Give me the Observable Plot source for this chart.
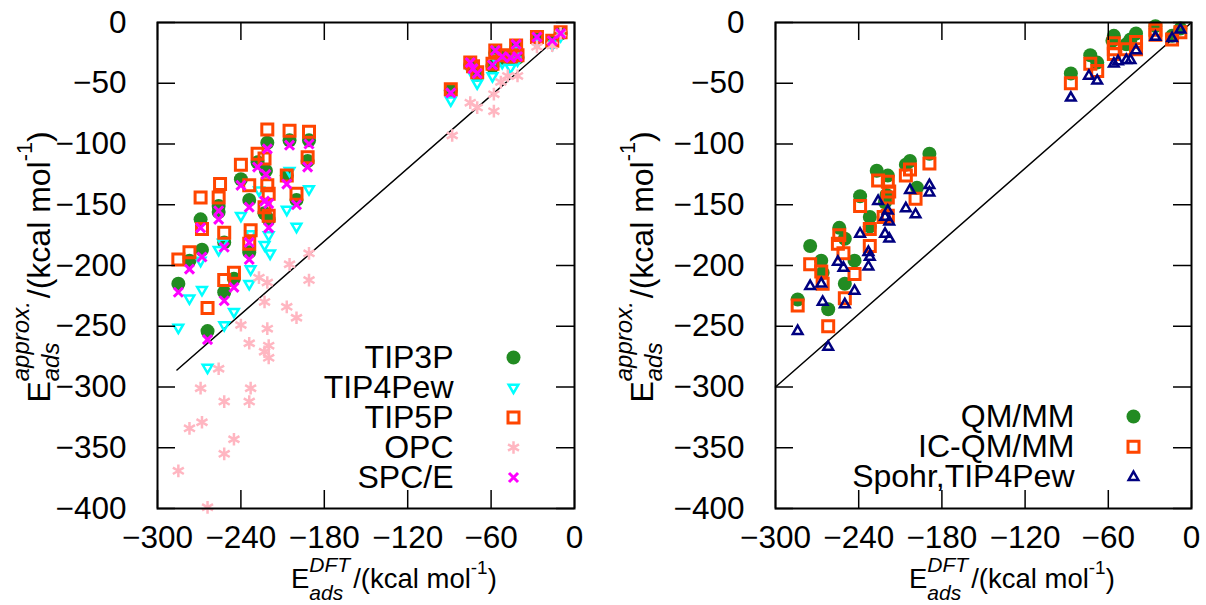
<!DOCTYPE html>
<html><head><meta charset="utf-8">
<script src="https://cdn.jsdelivr.net/npm/d3@7"></script>
<script src="https://cdn.jsdelivr.net/npm/@observablehq/plot@0.6"></script>
<style>
body{margin:0;background:#fff;}
#wrap{display:flex;width:1206px;height:605px;overflow:hidden;}
</style></head><body><div id="wrap"></div>
<script>
const FONT = '"Liberation Sans", Arial, Helvetica, sans-serif';
const xTicks = [-300, -240, -180, -120, -60, 0];
const yTicks = [0, -50, -100, -150, -200, -250, -300, -350, -400];
const leftNames = ["TIP3P", "TIP4Pew", "TIP5P", "OPC", "SPC/E"];
const rightNames = ["QM/MM", "IC-QM/MM", "Spohr,TIP4Pew"];
const diagLeft = [-286, -8];
const diagRight = [-300, 0];

// [E_DFT, E_approx] pairs
const tip3p = [[-221,-99],[-205,-97],[-191,-97],[-228,-115],[-222,-122],[-192,-114],[-240,-129],[-207,-126],[-234,-146],[-256,-151],[-256,-156],[-269,-162],[-223,-157],[-220,-162],[-200,-146],[-268,-187],[-252,-181],[-234,-189],[-277,-196],[-285,-215],[-252,-222],[-245,-211],[-264,-254],
  [-89,-56],[-75,-35],[-73,-38],[-70,-43],[-59,-36],[-57,-25],[-52,-29],[-46,-30],[-42,-21],[-41,-29],[-27,-14],[-16,-16],[-10,-9]];
const tip4pew = [[-205,-122],[-191,-137],[-227,-138],[-240,-159],[-207,-154],[-200,-168],[-220,-175],[-223,-183],[-219,-190],[-233,-174],[-233,-203],[-269,-196],[-277,-227],[-268,-220],[-234,-215],[-245,-238],[-285,-251],[-252,-249],[-264,-284],[-256,-187],[-253,-181],
  [-89,-64],[-75,-39],[-70,-50],[-59,-44],[-57,-29],[-52,-33],[-46,-37],[-42,-23],[-41,-31],[-27,-17],[-16,-18],[-10,-11]];
const tip5p = [[-221,-88],[-205,-89],[-191,-90],[-228,-108],[-223,-112],[-192,-111],[-240,-117],[-255,-133],[-234,-134],[-207,-126],[-221,-134],[-220,-141],[-200,-141],[-269,-144],[-256,-144],[-223,-152],[-220,-159],[-268,-170],[-252,-173],[-233,-171],[-234,-182],[-277,-189],[-285,-195],[-245,-206],[-252,-212],[-264,-235],
  [-89,-55],[-75,-33],[-73,-36],[-70,-41],[-59,-34],[-57,-23],[-52,-27],[-46,-28],[-42,-19],[-41,-27],[-27,-12],[-16,-15],[-10,-8]];
const opc = [[-191,-190],[-205,-199],[-191,-212],[-227,-210],[-221,-214],[-223,-230],[-207,-234],[-200,-243],[-240,-249],[-221,-252],[-234,-264],[-220,-266],[-223,-271],[-220,-276],[-256,-285],[-269,-301],[-233,-301],[-252,-312],[-234,-312],[-268,-329],[-277,-334],[-245,-343],[-252,-355],[-285,-369],[-264,-399],
  [-88,-93],[-75,-66],[-70,-70],[-58,-73],[-58,-59],[-53,-49],[-48,-44],[-41,-44],[-27,-20],[-16,-19],[-10,-9]];
const spce = [[-221,-104],[-205,-101],[-191,-100],[-228,-119],[-222,-125],[-192,-119],[-240,-134],[-207,-133],[-234,-152],[-256,-155],[-256,-162],[-269,-169],[-223,-147],[-220,-149],[-200,-150],[-220,-169],[-268,-193],[-252,-185],[-234,-195],[-234,-181],[-277,-203],[-285,-222],[-252,-229],[-245,-218],[-264,-261],
  [-89,-58],[-75,-33],[-73,-38],[-70,-42],[-59,-35],[-57,-23],[-52,-28],[-46,-29],[-42,-18],[-41,-28],[-27,-12],[-16,-15],[-10,-9]];

const qmmm = [[-189,-108],[-203,-114],[-206,-117],[-227,-122],[-219,-126],[-198,-136],[-239,-143],[-220,-142],[-221,-148],[-232,-160],[-232,-168],[-254,-169],[-250,-178],[-275,-184],[-267,-196],[-266,-206],[-243,-196],[-250,-215],[-284,-228],[-262,-236],
  [-87,-42],[-73,-27],[-68,-33],[-56,-11],[-57,-15],[-47,-18],[-44,-14],[-40,-9],[-26,-3],[-14,-11],[-8,-5]];
const icqmmm = [[-189,-116],[-203,-121],[-206,-126],[-226,-130],[-219,-131],[-218,-139],[-219,-144],[-199,-145],[-239,-151],[-222,-160],[-219,-159],[-232,-170],[-232,-184],[-254,-175],[-255,-182],[-251,-190],[-275,-199],[-267,-205],[-266,-215],[-243,-207],[-250,-227],[-284,-233],[-262,-250],
  [-87,-50],[-73,-34],[-68,-40],[-56,-17],[-56,-22],[-56,-26],[-47,-22],[-40,-16],[-40,-22],[-26,-6],[-26,-10],[-14,-14],[-8,-8]];
const spohr = [[-189,-134],[-189,-140],[-203,-138],[-206,-153],[-199,-158],[-226,-147],[-219,-155],[-221,-160],[-218,-164],[-221,-174],[-218,-178],[-239,-174],[-233,-189],[-232,-193],[-233,-201],[-255,-197],[-251,-202],[-275,-217],[-267,-215],[-243,-221],[-250,-232],[-266,-230],[-284,-254],[-262,-267],
  [-87,-62],[-74,-44],[-68,-48],[-56,-34],[-53,-32],[-47,-31],[-44,-31],[-40,-23],[-26,-12],[-14,-13],[-8,-6]];

const leftSeries = [
  {name: leftNames[0], data: tip3p, style: {symbol: "circle", fill: "#228b22", r: 7}},
  {name: leftNames[1], data: tip4pew, style: {symbol: "triangle2", stroke: "#00ffff", strokeWidth: 2.5, r: 4.6, rotate: 180}},
  {name: leftNames[2], data: tip5p, style: {symbol: "square2", stroke: "#ff4500", strokeWidth: 3, r: 7}},
  {name: leftNames[3], data: opc, style: {symbol: "asterisk", stroke: "#ffb6c1", strokeWidth: 2.5, r: 6}},
  {name: leftNames[4], data: spce, style: {symbol: "times", stroke: "#ff00ff", strokeWidth: 3, r: 4.2}}
];
const rightSeries = [
  {name: rightNames[0], data: qmmm, style: {symbol: "circle", fill: "#228b22", r: 7}},
  {name: rightNames[1], data: icqmmm, style: {symbol: "square2", stroke: "#ff4500", strokeWidth: 3, r: 7}},
  {name: rightNames[2], data: spohr, style: {symbol: "triangle2", stroke: "#000080", strokeWidth: 2.5, r: 4.6}}
];

function panel(series, diag, m, leg) {
  const W = 603, H = 605;
  const fw = W - m.left - m.right, fh = H - 22 - 97;
  const marks = [
    Plot.line(diag.map(v => [v, v]), {x: d => d[0], y: d => d[1], stroke: "black", strokeWidth: 1.5})
  ];
  for (const s of series) {
    marks.push(Plot.dot(s.data, {x: d => d[0], y: d => d[1], ...s.style}));
  }
  series.forEach((s, i) => {
    marks.push(Plot.dot([s.name], {frameAnchor: "top-left", dx: leg.sx, dy: leg.y0 + i * leg.step, ...s.style}));
    marks.push(Plot.text([s.name], {frameAnchor: "top-left", dx: leg.tx, dy: leg.y0 + i * leg.step, text: d => d, textAnchor: "end", lineAnchor: "middle", fontSize: 32, fill: "black"}));
  });
  marks.push(
    Plot.frame({stroke: "black", strokeWidth: 2}),
    Plot.tickX(xTicks, {x: d => d, insetTop: fh - 18, stroke: "black", strokeWidth: 1.5}),
    Plot.tickX(xTicks, {x: d => d, insetBottom: fh - 18, stroke: "black", strokeWidth: 1.5}),
    Plot.tickY(yTicks, {y: d => d, insetRight: fw - 18, stroke: "black", strokeWidth: 1.5}),
    Plot.tickY(yTicks, {y: d => d, insetLeft: fw - 18, stroke: "black", strokeWidth: 1.5}),
    Plot.axisX({ticks: xTicks, tickSize: 0, tickPadding: 17, label: null, fontSize: 31.5}),
    Plot.axisY({ticks: yTicks, tickSize: 0, tickPadding: 31, label: null, fontSize: 31.5})
  );
  return Plot.plot({
    width: W, height: H,
    marginLeft: m.left, marginRight: m.right, marginTop: 22, marginBottom: 97,
    x: {domain: [-300, 0]}, y: {domain: [-400, 0]},
    style: {fontFamily: FONT, fontSize: "31px", background: "white", color: "black", overflow: "visible"},
    marks
  });
}

function richLabel(svg, {x, y, rotate, sup, center, size, small, supDy, subDy}) {
  const g = d3.select(svg).append("g").attr("font-family", FONT).attr("fill", "black").attr("text-anchor", "start");
  const inner = g.append("g");
  let cx = 0;
  const add = (txt, sz, dy, italic) => {
    const t = inner.append("text").attr("x", cx).attr("y", dy).attr("font-size", sz).attr("text-anchor", "start").text(txt);
    if (italic) t.attr("font-style", "italic");
    return t;
  };
  const w = t => t.node().getComputedTextLength();
  const e = add("E", size, 0, false); cx += w(e);
  const s1 = add(sup, small, supDy, true);
  const s2 = add("ads", small, subDy, true);
  cx += Math.max(w(s1), w(s2)) + 3;
  const t2 = add("/(kcal mol", size, 0, false); cx += w(t2);
  const s3 = add("-1", small * 0.9, supDy * 0.85, false); cx += w(s3);
  const t3 = add(")", size, 0, false); cx += w(t3);
  const off = center ? -cx / 2 : 0;
  inner.attr("transform", `translate(${off},0)`);
  g.attr("transform", `translate(${x},${y}) rotate(${rotate})`);
}

const wrap = document.getElementById("wrap");
const left = panel(leftSeries, diagLeft, {left: 157, right: 29}, {sx: 356, tx: 296, y0: 335, step: 30});
const right = panel(rightSeries, diagRight, {left: 172, right: 15}, {sx: 358, tx: 299, y0: 394, step: 30.3});
wrap.appendChild(left);
wrap.appendChild(right);
const xl = {rotate: 0, sup: "DFT", center: false, size: 27.5, small: 21, supDy: -16, subDy: 12};
const yl = {rotate: -90, sup: "approx.", center: true, size: 32, small: 24, supDy: -21, subDy: 9};
richLabel(left, {x: 291, y: 588, ...xl});
richLabel(right, {x: 291 + 15, y: 588, ...xl});
richLabel(left, {x: 50, y: 267, ...yl});
richLabel(right, {x: 50, y: 267, ...yl});
</script>
</body></html>
